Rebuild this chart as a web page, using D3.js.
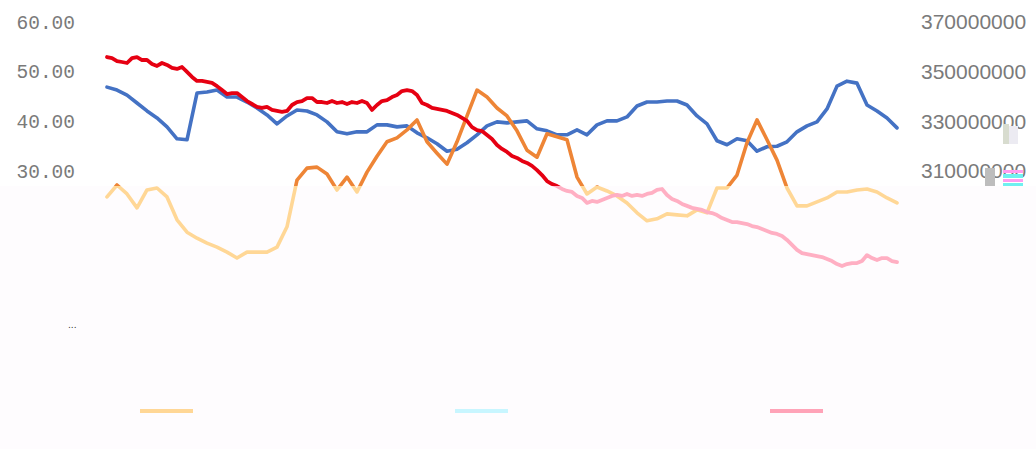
<!DOCTYPE html>
<html>
<head>
<meta charset="utf-8">
<script src="https://cdn.jsdelivr.net/npm/d3@7"></script>
<style>
    body { margin: 0; background: #ffffff; }
    svg { display: block; }
</style>
</head>
<body>
<div id="chartContainer"></div>
<script>
'use strict';

// left axis series (every other day)
const blueValues = [
    46.9, 46.3, 45.3, 43.7, 42.1, 40.7, 38.9, 36.5, 36.3, 45.7,
    45.9, 46.3, 44.9, 44.9, 43.9, 42.7, 41.3, 39.5, 41.1, 42.3,
    42.1, 41.3, 39.9, 37.9, 37.5, 37.9, 37.9, 39.3, 39.3, 38.9,
    39.1, 37.7, 36.7, 35.5, 34.0, 34.4, 35.7, 37.3, 39.1, 39.9,
    39.7, 39.9, 40.1, 38.5, 38.1, 37.3, 37.3, 38.3, 37.3, 39.3,
    40.1, 40.1, 40.9, 43.1, 43.9, 43.9, 44.1, 44.1, 43.3, 41.1,
    39.5, 36.1, 35.3, 36.5, 36.1, 34.0, 34.9, 35.0, 35.9, 37.9,
    39.1, 39.9, 42.5, 47.1, 48.1, 47.7, 43.3, 42.1, 40.7, 38.7
];

const orangeValues = [
    24.8, 27.2, 25.4, 22.6, 26.2, 26.6, 24.8, 20.2, 17.7, 16.5,
    15.5, 14.7, 13.7, 12.5, 13.7, 13.7, 13.7, 14.7, 18.8, 28.2,
    30.6, 30.8, 29.4, 26.2, 28.8, 25.8, 29.8, 33.0, 35.9, 36.7,
    38.3, 40.3, 35.9, 33.6, 31.4, 35.9, 41.1, 46.3, 44.9, 42.7,
    41.1, 38.1, 34.2, 32.8, 37.5, 36.9, 36.3, 28.8, 25.4, 26.8,
    26.0, 25.0, 23.6, 21.6, 20.0, 20.4, 21.4, 21.2, 21.0, 22.2,
    21.6, 26.6, 26.6, 29.2, 35.7, 40.3, 36.3, 32.2, 26.6, 23.0,
    23.0, 23.8, 24.6, 25.8, 25.8, 26.2, 26.4, 25.8, 24.6, 23.6
];

// right axis series (daily, millions)
const redValues = [
    355.9, 355.5, 354.3, 353.9, 353.5, 355.5, 355.9, 354.7, 354.7, 353.1,
    352.3, 353.5, 352.7, 351.5, 351.1, 351.9, 349.9, 347.9, 346.3, 346.3,
    345.9, 345.5, 344.2, 342.6, 341.0, 341.4, 341.4, 339.8, 338.2, 337.0,
    335.8, 335.4, 335.8, 334.6, 334.2, 333.8, 334.2, 336.6, 337.8, 338.2,
    339.4, 339.4, 337.8, 337.8, 337.4, 338.2, 337.4, 337.8, 337.0, 337.8,
    337.4, 338.2, 337.4, 334.6, 336.6, 338.2, 338.6, 339.8, 340.6, 342.2,
    342.6, 342.2, 340.6, 337.4, 336.6, 335.4, 335.0, 334.6, 334.2, 333.4,
    332.6, 331.4, 330.2, 327.7, 326.5, 326.1, 324.5, 322.9, 320.5, 318.9,
    317.7, 316.1, 315.3, 314.1, 313.3, 312.1, 310.4, 308.4, 306.0, 304.8,
    304.0, 302.8, 302.0, 301.6, 300.0, 299.2, 297.2, 298.0, 297.6, 298.4,
    299.2, 300.0, 300.4, 300.0, 300.8, 300.0, 300.4, 300.0, 300.8, 301.2,
    302.4, 302.8, 300.4, 298.8, 298.0, 296.8, 296.0, 295.2, 294.8, 294.4,
    293.5, 293.1, 292.3, 291.1, 290.3, 289.5, 289.5, 289.1, 288.7, 287.9,
    287.5, 286.7, 285.9, 285.1, 284.7, 283.9, 282.3, 280.3, 278.3, 277.0,
    276.6, 276.2, 275.8, 275.4, 274.6, 273.8, 272.6, 271.8, 272.6, 273.0,
    273.0, 273.8, 276.2, 275.0, 274.2, 275.0, 275.0, 273.8, 273.4
];

const leftTicks = [30, 40, 50, 60];
const rightTicks = [310000000, 330000000, 350000000, 370000000];

const width = 1036;
const height = 449;
const fadeTop = 186;

const svg = d3.select("#chartContainer")
    .append("svg")
    .attr("width", width)
    .attr("height", height);

svg.append("rect")
    .attr("width", width)
    .attr("height", height)
    .attr("fill", "#ffffff");

// washed out lower band
svg.append("rect")
    .attr("y", fadeTop)
    .attr("width", width)
    .attr("height", height - fadeTop)
    .attr("fill", "#fefcfe");

const defs = svg.append("defs");
defs.append("clipPath").attr("id", "clipTop")
    .append("rect").attr("width", width).attr("height", fadeTop);
defs.append("clipPath").attr("id", "clipBottom")
    .append("rect").attr("y", fadeTop).attr("width", width).attr("height", height - fadeTop);

const x = d3.scaleLinear().domain([0, redValues.length - 1]).range([107, 897]);
const yLeft = d3.scaleLinear().domain([0, 60]).range([320.2, 22]);
const yRight = d3.scaleLinear().domain([250000000, 370000000]).range([320.2, 22]);

const series = [
    { values: blueValues, step: 2, y: yLeft, scale: 1, color: "#4472c4", pale: "#d6f6ff", w: 3.6 },
    { values: orangeValues, step: 2, y: yLeft, scale: 1, color: "#ee8536", pale: "#ffd796", w: 3.6 },
    { values: redValues, step: 1, y: yRight, scale: 1e6, color: "#e60012", pale: "#ffafc3", w: 3.8 }
];

const drawLines = (clipId, colorKey) => {
    const g = svg.append("g").attr("clip-path", "url(#" + clipId + ")");
    series.forEach((s) => {
        const line = d3.line()
            .x((d, i) => x(i * s.step))
            .y((d) => s.y(d * s.scale));
        g.append("path")
            .datum(s.values)
            .attr("fill", "none")
            .attr("stroke", s[colorKey])
            .attr("stroke-width", s.w)
            .attr("stroke-linejoin", "round")
            .attr("stroke-linecap", "round")
            .attr("d", line);
    });
}

drawLines("clipTop", "color");
drawLines("clipBottom", "pale");

// axes, labels only
const leftAxis = svg.append("g")
    .attr("transform", "translate(75,0)")
    .call(d3.axisLeft(yLeft).tickValues(leftTicks).tickFormat(d3.format(".2f")).tickSize(0).tickPadding(0));

const rightAxis = svg.append("g")
    .attr("transform", "translate(921,0)")
    .call(d3.axisRight(yRight).tickValues(rightTicks).tickFormat(d3.format("d")).tickSize(0).tickPadding(0));

leftAxis.select(".domain").remove();
rightAxis.select(".domain").remove();

leftAxis.selectAll("text")
    .attr("fill", "#7a7a7a")
    .style("font-family", "'Liberation Mono', monospace")
    .style("font-size", "19.5px");

rightAxis.selectAll("text")
    .attr("fill", "#7a7a7a")
    .style("font-family", "'Liberation Sans', Arial, sans-serif")
    .style("font-size", "21px");

svg.append("text")
    .attr("x", 68)
    .attr("y", 328)
    .attr("fill", "#333333")
    .style("font-family", "'DejaVu Sans', sans-serif")
    .style("font-size", "9px")
    .text("...");

// smudges over the right labels
const smudges = [
    { x: 1003, y: 124, w: 6, h: 20, c: "#d8dccf" },
    { x: 1009, y: 126, w: 9, h: 18, c: "#ecebf2" },
    { x: 985, y: 168, w: 10, h: 18, c: "#bdbdbd" },
    { x: 1003, y: 170, w: 20, h: 3, c: "#ff9cf0" },
    { x: 1003, y: 174, w: 20, h: 4, c: "#6ff0f0" },
    { x: 1003, y: 179, w: 20, h: 3, c: "#ff9cf0" },
    { x: 1003, y: 183, w: 20, h: 3, c: "#6ff0f0" }
];

svg.selectAll(".smudge")
    .data(smudges)
    .enter()
    .append("rect")
    .attr("class", "smudge")
    .attr("x", (d) => d.x)
    .attr("y", (d) => d.y)
    .attr("width", (d) => d.w)
    .attr("height", (d) => d.h)
    .attr("fill", (d) => d.c);

// legend swatches
const legendColors = ["#ffd796", "#c8f6ff", "#ffa3b8"];
const legendX = [140, 455, 770];

svg.selectAll(".legend")
    .data(legendColors)
    .enter()
    .append("line")
    .attr("class", "legend")
    .attr("x1", (d, i) => legendX[i])
    .attr("x2", (d, i) => legendX[i] + 53)
    .attr("y1", 411)
    .attr("y2", 411)
    .attr("stroke", (d) => d)
    .attr("stroke-width", 4);
</script>
</body>
</html>
